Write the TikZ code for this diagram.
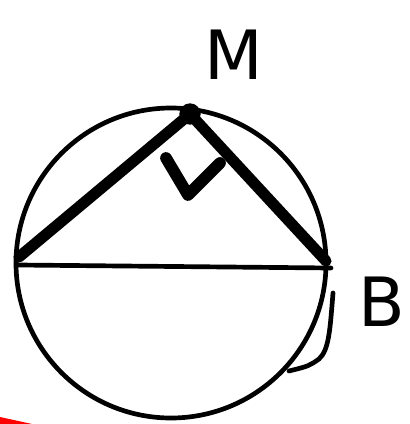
\documentclass[tikz,border=0pt]{standalone}
\usepackage{fontspec}
\setmainfont{DejaVu Sans}
\usepackage{tikz}
\usetikzlibrary{calc}

\begin{document}
\begin{tikzpicture}[x=0.03cm, y=-0.03cm, line cap=round, line join=round,
    thin stroke/.style={line width=4pt},
    chord/.style={line width=9.5pt},
    label/.style={font=\fontsize{58}{58}\selectfont, inner sep=0pt}]
    \useasboundingbox (0,0) rectangle (409,424);

    % Points
    \coordinate (O) at (171,263);
    \coordinate (A) at (19,257);
    \coordinate (M) at (190,114);
    \coordinate (B) at (326,261);
    \coordinate (A') at (18,265);
    \coordinate (B') at (331,268);

    % Circle
    \draw[thin stroke] (O) circle [radius=4.65cm];
    \draw[thin stroke] (333,293) .. controls (330,330) and (329,350) .. (319,359)
        .. controls (309,366) .. (289,371);

    % Diameter and chords
    \draw[thin stroke] (A') -- (B');
    \draw[chord] (A) -- (M) -- (B);
    \fill (M) circle [radius=0.32cm];

    % Right angle
    \coordinate (r1) at (166,158);
    \coordinate (r2) at (188,195);
    \coordinate (r3) at (220,163);
    \draw[line width=10pt] (r1) -- (r2) -- (r3);

    % Labels
    \node[label] (mlabel) at (234,55) {M};
    \node[label] (blabel) at (382,302) {B};

    % Red mark
    \fill[red] (0,417) -- (32,424) -- (0,424) -- cycle;
\end{tikzpicture}
\end{document}
